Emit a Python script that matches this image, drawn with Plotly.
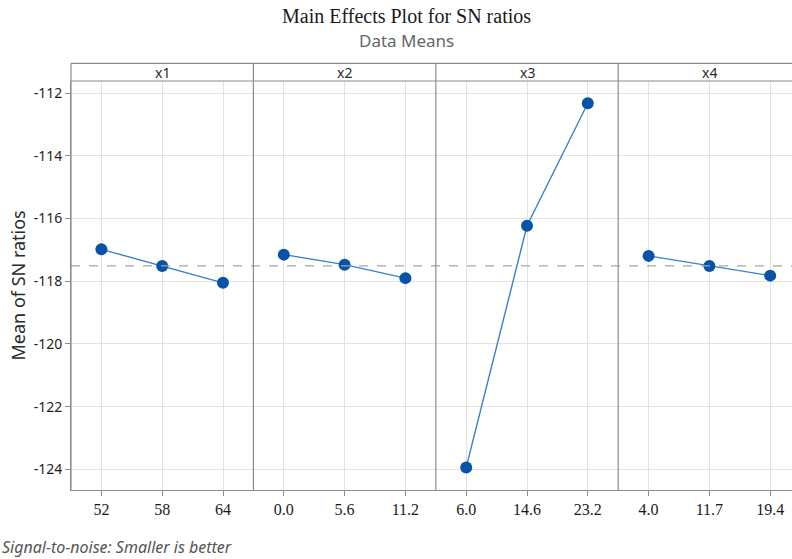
import plotly.graph_objects as go

# Factor levels and mean SN ratio at each level
factors = ["x1", "x2", "x3", "x4"]
levels_x1 = ["52", "58", "64"]
levels_x2 = ["0.0", "5.6", "11.2"]
levels_x3 = ["6.0", "14.6", "23.2"]
levels_x4 = ["4.0", "11.7", "19.4"]
sn_x1 = [-116.98, -117.51, -118.05]
sn_x2 = [-117.15, -117.47, -117.90]
sn_x3 = [-123.94, -116.23, -112.32]
sn_x4 = [-117.19, -117.51, -117.82]
y_ticks = [-124, -122, -120, -118, -116, -114, -112]

levels = [levels_x1, levels_x2, levels_x3, levels_x4]
values = [sn_x1, sn_x2, sn_x3, sn_x4]
all_vals = [v for s in values for v in s]
grand_mean = sum(all_vals) / len(all_vals)

W, H = 792, 559
px = lambda x: x / W
py = lambda y: (H - y) / H

left, panel_w = 71.0, 182.4
bottom, top, strip_top = 490.0, 81.0, 63.3

GRID = "#e2e2e2"
FRAME = "#8c8c8c"
MARK = "#0653a7"
LINE = "#3b7fcf"

fig = go.Figure()
layout = dict(
    width=W, height=H,
    margin=dict(l=0, r=0, t=0, b=0),
    paper_bgcolor="white", plot_bgcolor="white",
    showlegend=False,
)

for i, (fac, lv, vals) in enumerate(zip(factors, levels, values)):
    x0 = left + panel_w * i
    x1 = min(x0 + panel_w, W)
    rng_hi = -0.5 + 3 * (x1 - x0) / panel_w
    ax = "xaxis" if i == 0 else f"xaxis{i + 1}"
    ref = "x" if i == 0 else f"x{i + 1}"
    layout[ax] = dict(
        domain=[px(x0), px(x1)],
        anchor="y",
        type="category",
        categoryorder="array", categoryarray=lv,
        range=[-0.5, rng_hi],
        showgrid=True, gridcolor=GRID, gridwidth=1,
        showline=True, linecolor=FRAME, linewidth=1,
        ticks="outside", ticklen=5, tickcolor=FRAME,
        tickfont=dict(family="Liberation Serif", size=16, color="#1a1a1a"),
        zeroline=False, fixedrange=True,
    )
    fig.add_trace(go.Scatter(
        x=lv, y=vals, xaxis=ref, yaxis="y",
        mode="lines+markers",
        line=dict(color=LINE, width=1.4),
        marker=dict(color=MARK, size=12),
        cliponaxis=False,
    ))

layout["yaxis"] = dict(
    domain=[py(bottom), py(top)],
    anchor="x",
    range=[-124.66, -111.61],
    tickvals=y_ticks,
    ticktext=[f"-{abs(t)}" for t in y_ticks],
    tickfont=dict(family="Noto Sans", size=14, color="#1f1f1f"),
    showgrid=True, gridcolor=GRID, gridwidth=1,
    showline=True, linecolor=FRAME, linewidth=1,
    ticks="outside", ticklen=5, tickcolor=FRAME,
    zeroline=False, fixedrange=True,
)

shapes = []
# grand mean reference line across all panels
shapes.append(dict(type="line", xref="paper", yref="y",
                   x0=px(left), x1=1, y0=grand_mean, y1=grand_mean,
                   line=dict(color="#a6a6a6", width=1.3, dash="dash")))
# strip box and panel dividers
shapes.append(dict(type="line", xref="paper", yref="paper",
                   x0=px(left), x1=1, y0=py(strip_top), y1=py(strip_top),
                   line=dict(color=FRAME, width=1.2)))
shapes.append(dict(type="line", xref="paper", yref="paper",
                   x0=px(left), x1=1, y0=py(top), y1=py(top),
                   line=dict(color=FRAME, width=1.2)))
for i in range(4):
    xd = left + panel_w * i
    shapes.append(dict(type="line", xref="paper", yref="paper",
                       x0=px(xd), x1=px(xd), y0=py(bottom), y1=py(strip_top),
                       line=dict(color=FRAME, width=1.2)))
layout["shapes"] = shapes

annotations = []
for i, fac in enumerate(factors):
    x0 = left + panel_w * i
    annotations.append(dict(
        text=fac, xref="paper", yref="paper",
        x=px(x0 + panel_w / 2), y=py((strip_top + top) / 2),
        xanchor="center", yanchor="middle", showarrow=False,
        font=dict(family="Noto Sans", size=14, color="#2a2a2a"),
    ))
annotations += [
    dict(text="Main Effects Plot for SN ratios", xref="paper", yref="paper",
         x=px(407), y=py(16), xanchor="center", yanchor="middle", showarrow=False,
         font=dict(family="Liberation Serif", size=20, color="#1a1a1a")),
    dict(text="Data Means", xref="paper", yref="paper",
         x=px(406), y=py(40), xanchor="center", yanchor="middle", showarrow=False,
         font=dict(family="Noto Sans", size=17, color="#666")),
    dict(text="Mean of SN ratios", xref="paper", yref="paper",
         x=px(17), y=py((top + bottom) / 2), xanchor="center", yanchor="middle",
         textangle=-90, showarrow=False,
         font=dict(family="Noto Sans", size=18, color="#2a2a2a")),
    dict(text="<i>Signal-to-noise: Smaller is better</i>", xref="paper", yref="paper",
         x=px(0), y=py(547), xanchor="left", yanchor="middle", showarrow=False,
         font=dict(family="Noto Sans", size=16, color="#555")),
]
layout["annotations"] = annotations

fig.update_layout(**layout)
fig.write_html("out.html")
